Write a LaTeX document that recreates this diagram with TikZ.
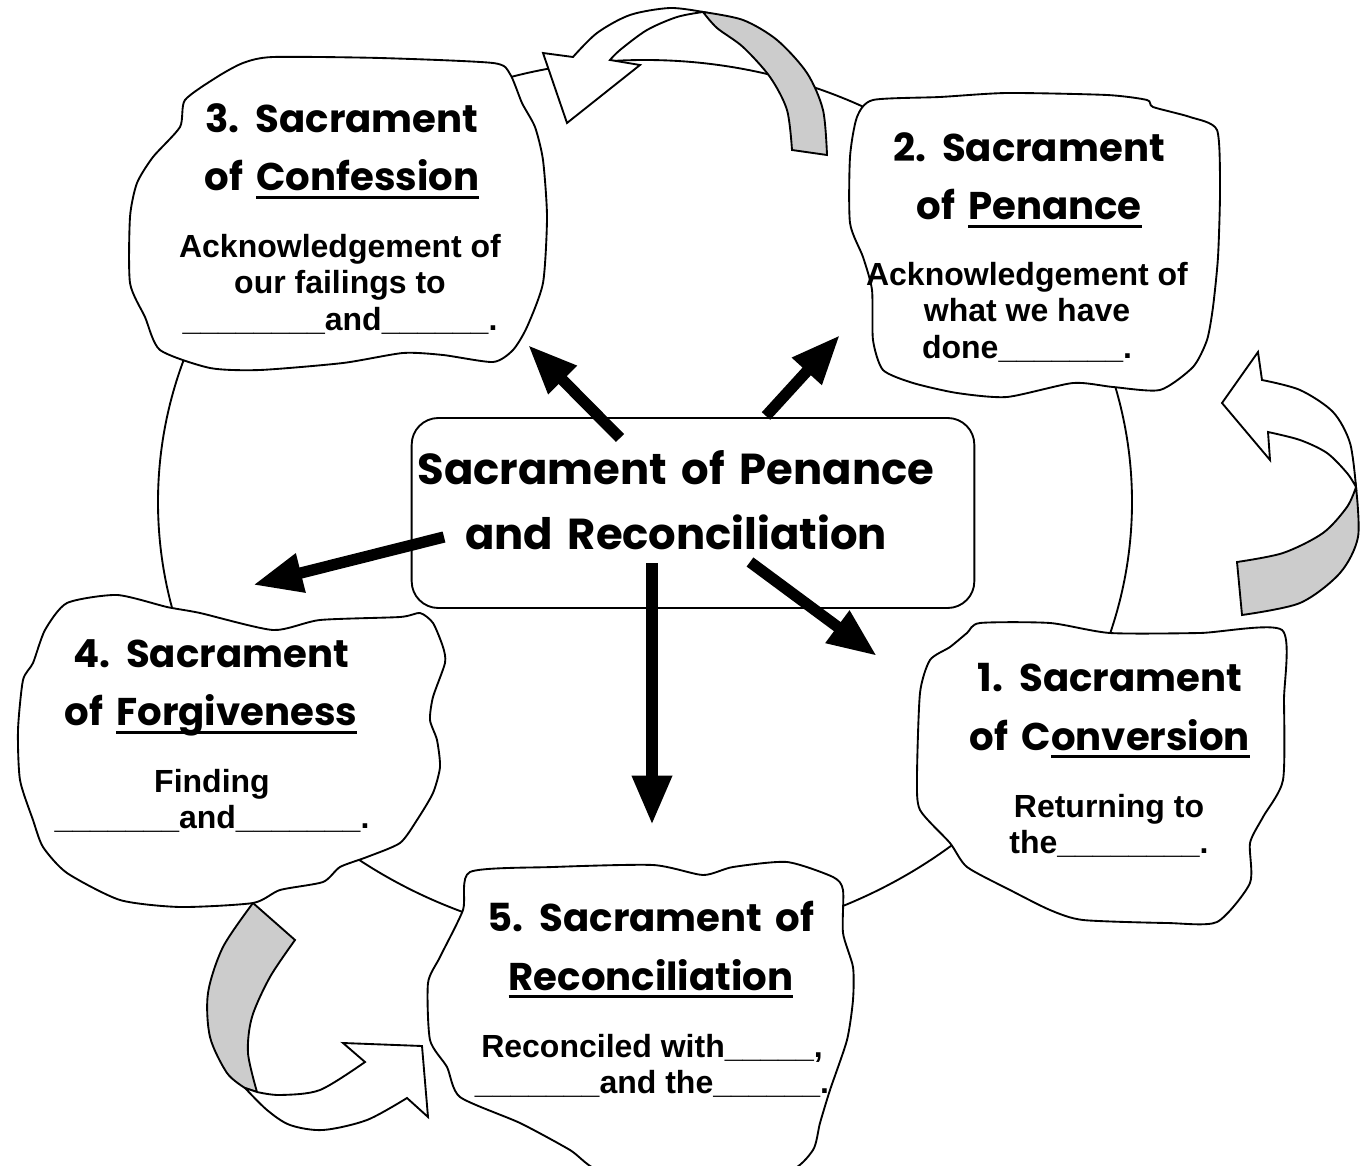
\documentclass[tikz,border=0pt]{standalone}
\usepackage{fontspec}
\setmainfont{Liberation Sans}
\newfontfamily\comicfont{Poppins}[WordSpace=1.6]
\usetikzlibrary{arrows.meta}
\newsavebox\ulbox
\newcommand\undl[1]{\sbox\ulbox{#1}\rlap{\rule[-.2em]{\wd\ulbox}{2.2pt}}\usebox\ulbox}

\begin{document}
\begin{tikzpicture}[x=.75pt,y=-.75pt]
\tikzstyle{every node}=[inner sep=0pt, align=center, anchor=north]
\tikzstyle{ttl}=[font={\comicfont\bfseries\fontsize{29}{44}\selectfont}]
\tikzstyle{txt}=[font={\bfseries\fontsize{24}{27.4}\selectfont}]
\tikzstyle{blob}=[draw, fill=white, line width=1.4pt]
\tikzstyle{ring}=[line width=1.4pt]
\tikzstyle{turnw}=[draw, fill=white, line width=1.4pt]
\tikzstyle{turng}=[draw, fill=gray!40, line width=1.4pt]
\tikzstyle{spoke}=[line width=8.5pt, -{Triangle[length=37pt,width=28pt]}]
\useasboundingbox (0,0) rectangle (1364,1166);
\clip (0,0) rectangle (1364,1166);
\draw[ring] (645,502) ellipse [x radius=365.25pt, y radius=331.5pt];
\draw[turnw] plot[smooth] coordinates {(703,12) (670,8) (630,15) (597,33) (573,57)} -- (543,53) -- (567,123) -- (640,65) -- (610,60) -- plot[smooth] coordinates {(610,60) (620,50) (647,30) (677,17) (703,12)} -- cycle;
\draw[turng] plot[smooth] coordinates {(703,12) (743,20) (777,40) (807,73) (823,110) (827,155)} -- (792,150) -- plot[smooth] coordinates {(792,150) (787,110) (770,77) (743,47) (717,28) (703,12)} -- cycle;
\draw[turnw] plot[smooth] coordinates {(1262,380) (1300,390) (1333,412) (1350,443) (1356,487)} -- plot[smooth] coordinates {(1356,487) (1347,473) (1327,453) (1300,440) (1268,432)} -- (1270,460) -- (1222,403) -- (1258,352) -- cycle;
\draw[turng] plot[smooth] coordinates {(1356,487) (1358,537) (1340,573) (1300,603) (1242,615)} -- (1237,562) -- plot[smooth] coordinates {(1237,562) (1283,553) (1323,533) (1347,507) (1356,487)} -- cycle;
\draw[turng] plot[smooth] coordinates {(253,903) (223,947) (208,993) (210,1037) (227,1073) (245,1088)} -- (257,1092) -- plot[smooth] coordinates {(257,1092) (248,1053) (252,1017) (270,977) (295,940)} -- cycle;
\draw[turnw] plot[smooth] coordinates {(245,1088) (267,1110) (290,1125) (323,1130) (367,1120) (407,1098)} -- (428,1117) -- (422,1046) -- (343,1043) -- (365,1062) -- plot[smooth] coordinates {(365,1062) (320,1090) (280,1095) (257,1092)} -- cycle;
\draw[blob] plot[smooth cycle, tension=.4] coordinates {(273,57) (380,58) (493,63) (510,74) (522,103) (535,127) (543,160) (547,217) (543,283) (527,327) (513,350) (493,362) (443,355) (403,353) (343,363) (260,370) (210,368) (160,350) (145,317) (130,283) (130,217) (137,183) (153,157) (180,127) (185,100) (217,77) (243,63)};
\draw[blob] plot[smooth cycle, tension=.4] coordinates {(873,100) (940,97) (1007,93) (1107,95) (1147,100) (1153,107) (1190,117) (1217,130) (1220,190) (1218,257) (1213,307) (1207,340) (1193,367) (1160,390) (1113,387) (1073,383) (1007,397) (957,393) (913,383) (883,370) (873,340) (872,290) (863,257) (850,223) (850,157) (857,117)};
\draw[blob] plot[smooth cycle, tension=.4] coordinates {(980,623) (1050,623) (1110,633) (1200,633) (1282,630) (1284,700) (1283,780) (1263,817) (1250,843) (1250,883) (1217,922) (1167,923) (1083,920) (1050,910) (1010,890) (967,867) (950,843) (920,810) (917,777) (920,693) (930,660) (950,647) (967,633)};
\draw[blob] plot[smooth cycle, tension=.4] coordinates {(67,603) (117,595) (167,607) (200,613) (273,630) (320,620) (400,617) (420,613) (433,623) (443,647) (445,663) (433,697) (430,720) (437,740) (440,767) (433,793) (417,820) (400,843) (367,857) (340,867) (323,882) (280,890) (253,903) (180,907) (120,900) (67,873) (43,847) (33,820) (20,780) (18,730) (23,680) (33,663) (45,630)};
\draw[blob] plot[smooth cycle, tension=.4] coordinates {(470,872) (553,867) (653,865) (703,875) (733,867) (787,862) (833,877) (843,890) (843,933) (853,967) (853,1000) (847,1040) (830,1090) (820,1123) (813,1150) (787,1172) (700,1180) (603,1172) (570,1150) (520,1123) (460,1097) (447,1067) (430,1040) (428,983) (440,957) (463,910)};
\draw (693,513) node (hub) [draw, anchor=center, rounded corners=20pt, line width=1.4pt, minimum width=422pt, minimum height=142.5pt] {};
\draw (676,450) node (hubt) [font={\comicfont\bfseries\fontsize{32.5}{48.75}\selectfont}] {Sacrament of Penance\\and Reconciliation};
\draw (342,103) node (c3t) [ttl] {3. Sacrament\\of \undl{Confession}};
\draw (340,234) node (c3b) [txt] {Acknowledgement of\\our failings to\\\_\_\_\_\_\_\_\_and\_\_\_\_\_\_.};
\draw (1029,132) node (c2t) [ttl] {2. Sacrament\\of \undl{Penance}};
\draw (1027,262) node (c2b) [txt] {Acknowledgement of\\what we have\\done\_\_\_\_\_\_\_.};
\draw (1110,663) node (c1t) [ttl] {1. Sacrament\\of C\undl{onversion}};
\draw (1109,794) node (c1b) [txt] {Returning to\\the\_\_\_\_\_\_\_\_.};
\draw (211,639) node (c4t) [ttl] {4. Sacrament\\of \undl{Forgiveness}};
\draw (212,769) node (c4b) [txt] {Finding\\\_\_\_\_\_\_\_and\_\_\_\_\_\_\_.};
\draw (651,901) node (c5t) [ttl] {5. Sacrament of\\\undl{Reconciliation}};
\draw (652,1034) node (c5b) [txt] {Reconciled with\_\_\_\_\_,\\\_\_\_\_\_\_\_and the\_\_\_\_\_\_.};
\coordinate (a3s) at (620,438);
\coordinate (a3e) at (528,345);
\coordinate (a2s) at (766,416);
\coordinate (a2e) at (840,335);
\coordinate (a4s) at (444,537);
\coordinate (a4e) at (253,585);
\coordinate (a5s) at (652,563);
\coordinate (a5e) at (652,825);
\coordinate (a1s) at (750,562);
\coordinate (a1e) at (877,656);
\draw[spoke] (a3s) -- (a3e);
\draw[spoke] (a2s) -- (a2e);
\draw[spoke] (a4s) -- (a4e);
\draw[spoke] (a5s) -- (a5e);
\draw[spoke] (a1s) -- (a1e);
\end{tikzpicture}
\end{document}
